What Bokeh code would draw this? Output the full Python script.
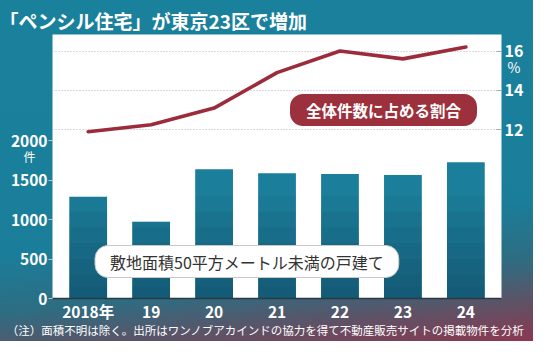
from bokeh.plotting import figure
from bokeh.models import Range1d, LinearAxis, FixedTicker, Label, Grid
from bokeh.embed import file_html
from bokeh.resources import INLINE

# ---- data ----
years = ["2018年", "19", "20", "21", "22", "23", "24"]
counts = [1290, 975, 1640, 1590, 1580, 1568, 1730]          # 件
share = [11.9, 12.25, 13.1, 14.9, 16.0, 15.6, 16.2]          # %
left_ticks = [0, 500, 1000, 1500, 2000]
right_ticks = [12, 14, 16]
title_text = "「ペンシル住宅」が東京23区で増加"
note_text = "（注）面積不明は除く。出所はワンノブアカインドの協力を得て不動産販売サイトの掲載物件を分析"
bar_label = "敷地面積50平方メートル未満の戸建て"
line_label = "全体件数に占める割合"
left_unit = "件"
right_unit = "%"

# ---- layout ----
W, H = 533, 341
FL, FR, FT, FB = 52, 501, 34, 298
X0, X1 = -0.567, 6.566
Y0, Y1 = 0, 3351
R0, R1 = 3.418, 16.84
FONT = "Noto Sans CJK JP"

xs = list(range(len(years)))


def X(px):
    return X0 + (px - FL) / (FR - FL) * (X1 - X0)


def Y(py):
    return Y0 + (FB - py) / (FB - FT) * (Y1 - Y0)


def R(py):
    return R0 + (FB - py) / (FB - FT) * (R1 - R0)


p = figure(width=W, height=H, output_backend="svg", toolbar_location=None,
           x_range=Range1d(X0, X1), y_range=Range1d(Y0, Y1),
           min_border_left=FL, min_border_right=W - FR,
           min_border_top=FT, min_border_bottom=H - FB)
p.styles = {"background": "linear-gradient(174deg, #1a819d 0%, #1a7e9a 64%, #2d6d82 79%, #5e5266 90%, #8b3850 100%)"}
p.border_fill_alpha = 0
p.background_fill_color = "white"
p.outline_line_color = None
p.xgrid.visible = False
p.ygrid.visible = False

# title
p.title.text = title_text
p.title.text_font = FONT
p.title.text_font_size = "19px"
p.title.text_font_style = "bold"
p.title.text_color = "white"
p.title.align = "left"
p.title.offset = -1 - FL
p.title.standoff = 1

p.extra_y_ranges = {"pct": Range1d(R0, R1)}

# bars with a stepped darkening towards the base
p.vbar(x=xs, top=counts, width=0.6, color="#1b7f9b", line_color=None)
for lvl in [1300, 1100, 900, 700, 500, 300, 150]:
    tops = [min(c, lvl) for c in counts]
    p.vbar(x=xs, top=tops, width=0.6, color="#0f3048", alpha=0.07, line_color=None)

# grid for right axis
grid = Grid(dimension=1, ticker=FixedTicker(ticks=right_ticks), y_range_name="pct",
            grid_line_color="#b4b4b4", grid_line_dash="1 2", grid_line_width=1)
p.add_layout(grid, "center")

p.line(xs, share, y_range_name="pct", line_color="#9c2c3b", line_width=3.6,
       line_cap="round", line_join="round")


def style_labels(ax, size, bold=True):
    ax.major_label_text_color = "white"
    ax.major_label_text_font = FONT
    ax.major_label_text_font_style = "bold" if bold else "normal"
    ax.major_label_text_font_size = size
    ax.minor_tick_line_color = None
    ax.axis_label_standoff = 0


def bare(ax):
    ax.axis_line_color = None
    ax.major_tick_line_color = None
    ax.major_tick_out = 0
    ax.major_tick_in = 0


# left axis
ya = p.yaxis[0]
ya.ticker = FixedTicker(ticks=left_ticks)
ya.axis_line_color = None
ya.major_tick_out = 4
ya.major_tick_in = 0
ya.major_tick_line_color = "#b9c6ca"
ya.major_label_standoff = 1
style_labels(ya, "15.5px")

# unit "件" under 2000
ya2 = LinearAxis(ticker=FixedTicker(ticks=[Y(155.7)]))
ya2.major_label_overrides = {Y(155.7): left_unit}
bare(ya2)
ya2.major_label_standoff = -28
ya2.major_label_text_align = "center"
style_labels(ya2, "12px", bold=False)
p.add_layout(ya2, "left")

# bottom axis
xa = p.xaxis[0]
xa.ticker = FixedTicker(ticks=xs)
xa.major_label_overrides = {i: y for i, y in zip(xs, years)}
xa.axis_line_color = "#2b3a42"
xa.axis_line_width = 1.5
xa.major_tick_line_color = None
xa.major_tick_out = 0
xa.major_tick_in = 0
xa.major_label_standoff = 1
style_labels(xa, "15.5px")

# footnote (as a one-label axis under the year labels)
xa2 = LinearAxis(ticker=FixedTicker(ticks=[X(265)]))
xa2.major_label_overrides = {X(265): note_text}
bare(xa2)
xa2.major_label_standoff = -3
xa2.major_label_text_align = "center"
style_labels(xa2, "11.5px", bold=False)
p.add_layout(xa2, "below")

# right axis
ra = LinearAxis(y_range_name="pct", ticker=FixedTicker(ticks=right_ticks))
ra.axis_line_color = None
ra.major_tick_in = 5
ra.major_tick_out = 0
ra.major_tick_line_color = "#a8a8a8"
ra.major_label_standoff = 3
style_labels(ra, "16px")
p.add_layout(ra, "right")

# unit "%" under 16
ra2 = LinearAxis(y_range_name="pct", ticker=FixedTicker(ticks=[R(66.9)]))
ra2.major_label_overrides = {R(66.9): right_unit}
bare(ra2)
ra2.major_label_standoff = -19
ra2.major_label_text_align = "center"
style_labels(ra2, "14px", bold=False)
p.add_layout(ra2, "right")


def lab(px, py, text, size, color="white", style="normal", align="center", **kw):
    p.add_layout(Label(x=X(px), y=Y(py), text=text, text_font=FONT, text_font_size=size,
                       text_color=color, text_font_style=style, text_align=align,
                       text_baseline="middle", **kw))


lab(383, 109.5, line_label, "15.5px", style="bold",
    background_fill_color="#9c303c", border_radius=13, padding=(16, 5))
lab(246.4, 261, bar_label, "16px", color="#333333",
    background_fill_color="white", border_line_color="#c8c8c8", border_radius=13, padding=(15, 4))

open("out.html", "w").write(file_html(p, INLINE))
